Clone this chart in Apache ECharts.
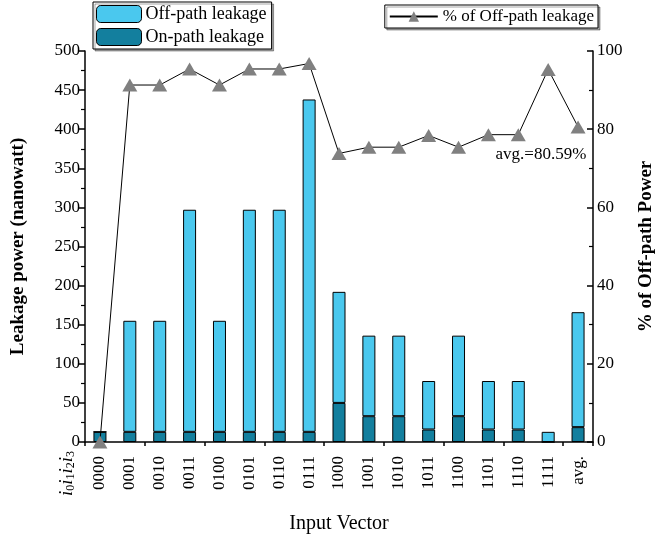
<!DOCTYPE html>
<html>
<head>
<meta charset="utf-8">
<script src="https://cdn.jsdelivr.net/npm/echarts@6/dist/echarts.min.js"></script>
<style>
  html, body { margin: 0; padding: 0; background: #fff; }
  #chart { width: 658px; height: 540px; }
</style>
</head>
<body>
<div id="chart"></div>
<script>
// Input vectors i0 i1 i2 i3, plus the average column
const categories = ['0000', '0001', '0010', '0011', '0100', '0101', '0110', '0111',
                    '1000', '1001', '1010', '1011', '1100', '1101', '1110', '1111', 'avg.'];
// Leakage power components (nanowatt)
const onPath  = [13, 13, 13, 13, 13, 13, 13, 13, 50, 33, 33, 16, 33, 16, 16, 0, 19];
const offPath = [0, 142, 142, 284, 142, 284, 284, 425, 142, 103, 103, 62, 103, 62, 62, 13, 147];
// Share of off-path leakage (%)
const offPathPct = [0, 91.3, 91.3, 95.4, 91.3, 95.4, 95.4, 96.8, 73.8, 75.4, 75.4, 78.4,
                    75.4, 78.6, 78.6, 95.3, 80.59];
const leftTicks = { min: 0, max: 500, interval: 50 };
const rightTicks = { min: 0, max: 100, interval: 20 };
const avgLabel = 'avg.=80.59%';

const FONT = 'Liberation Serif';
const LIGHT = '#4AC8EE';
const DARK = '#137F9E';

const chart = echarts.init(document.getElementById('chart'));

const baseText = { fontFamily: FONT, color: '#000' };

// the average point carries its own value label
const pctData = offPathPct.map((v, i) => i === offPathPct.length - 1
  ? { value: v, label: { show: true, formatter: avgLabel, ...baseText, fontSize: 17,
                         position: [-75, 26] } }
  : v);

chart.setOption({
  animation: false,
  textStyle: { fontFamily: FONT },
  grid: { left: 85, right: 65, top: 51, bottom: 98, outerBoundsMode: 'none', containLabel: false },
  legend: [
    {
      data: ['Off-path leakage', 'On-path leakage'],
      orient: 'vertical',
      left: 93, top: 2,
      itemWidth: 45, itemHeight: 17, itemGap: 5,
      padding: [3, 5, 3, 3],
      borderColor: '#000', borderWidth: 1,
      shadowColor: 'rgba(0,0,0,0.35)', shadowOffsetX: 2, shadowOffsetY: 2, shadowBlur: 0,
      backgroundColor: '#fff',
      textStyle: { ...baseText, fontSize: 18, padding: [0, 0, 0, -1] },
      itemStyle: { borderColor: '#000', borderWidth: 1 }
    },
    {
      data: ['% of Off-path leakage'],
      right: 60, top: 5,
      itemWidth: 48, itemHeight: 13,
      padding: [3, 4, 3, 4],
      borderColor: '#000', borderWidth: 1,
      shadowColor: 'rgba(0,0,0,0.35)', shadowOffsetX: 2, shadowOffsetY: 2, shadowBlur: 0,
      backgroundColor: '#fff',
      textStyle: { ...baseText, fontSize: 17 }
    }
  ],
  xAxis: [
    {
      type: 'category',
      data: categories,
      boundaryGap: true,
      axisLine: { lineStyle: { color: '#000', width: 1.5 } },
      axisTick: { alignWithLabel: true, length: 7, lineStyle: { color: '#000', width: 1.5 } },
      axisLabel: { ...baseText, fontSize: 17, rotate: 90, interval: 0, margin: 14 },
      name: 'Input Vector',
      nameLocation: 'middle',
      nameGap: 72,
      nameTextStyle: { ...baseText, fontSize: 20 }
    },
    {
      type: 'category',
      data: categories,
      position: 'bottom',
      boundaryGap: true,
      axisLine: { show: false },
      axisTick: { show: true, length: 4, lineStyle: { color: '#000', width: 1.5 } },
      axisLabel: { show: false }
    }
  ],
  yAxis: [
    {
      type: 'value',
      ...leftTicks,
      position: 'left',
      axisLine: { show: true, lineStyle: { color: '#000', width: 1.5 } },
      axisTick: { show: true, inside: false, length: 6, lineStyle: { color: '#000', width: 1.5 } },
      minorTick: { show: true, splitNumber: 2, length: 4, lineStyle: { color: '#000', width: 1.2 } },
      splitLine: { show: false },
      axisLabel: { ...baseText, fontSize: 17, margin: 5 },
      name: 'Leakage power (nanowatt)',
      nameLocation: 'middle',
      nameGap: 57,
      nameTextStyle: { ...baseText, fontSize: 19, fontWeight: 'bold' }
    },
    {
      type: 'value',
      ...rightTicks,
      position: 'right',
      axisLine: { show: true, lineStyle: { color: '#000', width: 1.5 } },
      axisTick: { show: true, inside: true, length: 6, lineStyle: { color: '#000', width: 1.5 } },
      minorTick: { show: true, splitNumber: 2, length: 4, lineStyle: { color: '#000', width: 1.2 } },
      splitLine: { show: false },
      axisLabel: { ...baseText, fontSize: 17, margin: 4 },
      name: '% of Off-path Power',
      nameLocation: 'middle',
      nameGap: 44,
      nameRotate: 90,
      nameTextStyle: { ...baseText, fontSize: 19, fontWeight: 'bold' }
    }
  ],
  series: [
    {
      name: 'On-path leakage',
      type: 'bar',
      stack: 'leak',
      data: onPath,
      barWidth: 13,
      itemStyle: { color: DARK, borderColor: '#000', borderWidth: 1 }
    },
    {
      name: 'Off-path leakage',
      type: 'bar',
      stack: 'leak',
      data: offPath,
      barWidth: 13,
      itemStyle: { color: LIGHT, borderColor: '#000', borderWidth: 1 }
    },
    {
      name: '% of Off-path leakage',
      type: 'line',
      yAxisIndex: 1,
      data: pctData,
      symbol: 'triangle',
      symbolSize: [15, 13],
      itemStyle: { color: '#808080' },
      lineStyle: { color: '#000', width: 1 },
      z: 5
    }
  ],
  graphic: [
    {
      type: 'text',
      left: 57,
      top: 451,
      rotation: Math.PI / 2,
      style: {
        text: '{i|i}{s|0}{i|i}{s|1}{i|i}{s|2}{i|i}{s|3}',
        rich: {
          i: { fontFamily: FONT, fontStyle: 'italic', fontSize: 19, fill: '#000' },
          s: { fontFamily: FONT, fontSize: 12, fill: '#000', padding: [8, 0, 0, 0] }
        }
      }
    }
  ]
});
</script>
</body>
</html>
